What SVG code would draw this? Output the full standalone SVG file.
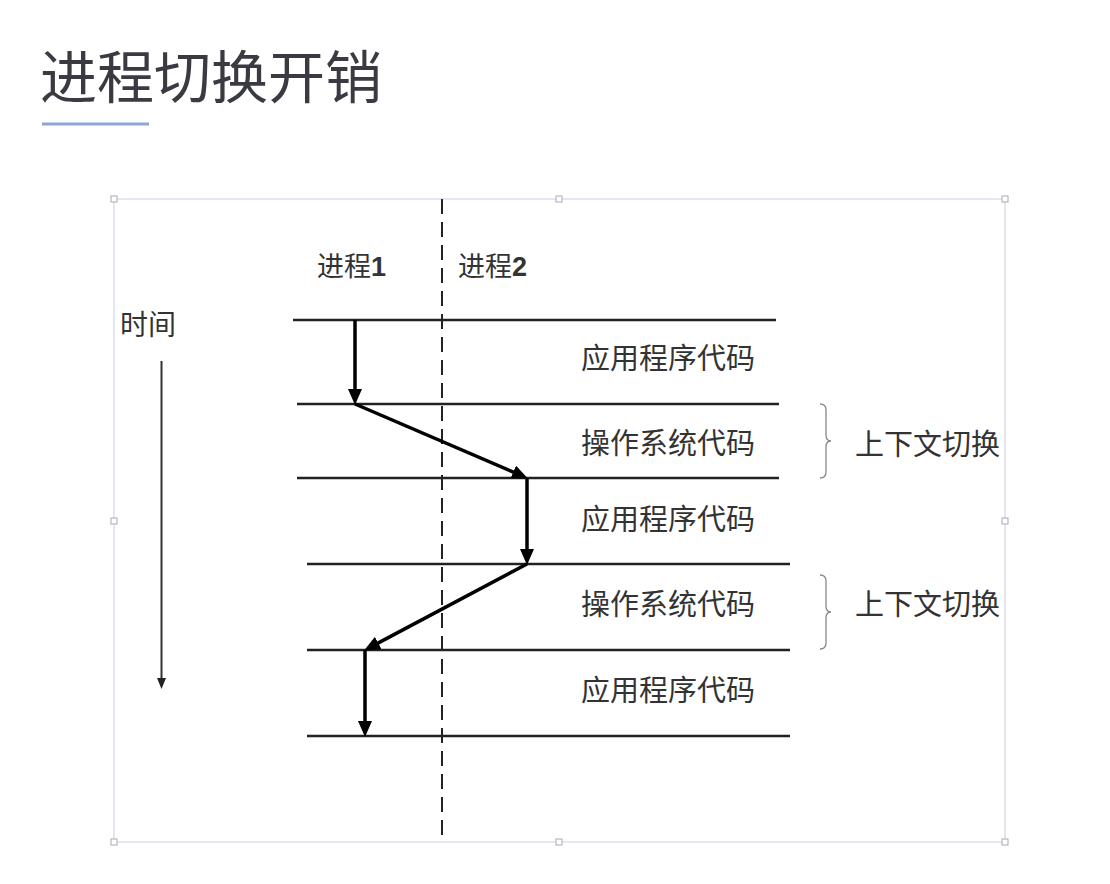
<svg xmlns="http://www.w3.org/2000/svg" width="1110" height="884" viewBox="0 0 1110 884">
<defs>
<style>
.cjk{font-family:"Noto Sans CJK SC","Noto Sans",sans-serif;fill:#333;}
.lbl{font-size:29px;}
.hline{stroke:#222;stroke-width:2.5;fill:none;}
.flow{stroke:#000;stroke-width:3.5;fill:none;}
.brace{stroke:#888;stroke-width:1.3;fill:none;}
.handle{fill:#fff;stroke:#a8aab4;stroke-width:1;}
</style>
<marker id="ah" markerUnits="userSpaceOnUse" markerWidth="16" markerHeight="14" refX="11" refY="7" orient="auto">
<path d="M0,0 L16,7 L0,14 z" fill="#000"/>
</marker>
<marker id="ahs" markerUnits="userSpaceOnUse" markerWidth="11" markerHeight="9" refX="8" refY="4.5" orient="auto">
<path d="M0,0 L11,4.5 L0,9 z" fill="#222"/>
</marker>
</defs>
<rect width="1110" height="884" fill="#fff"/>

<g id="title">
<text class="cjk" x="40" y="98" font-size="57" style="fill:#3a3a42">进程切换开销</text>
<line x1="42" y1="124" x2="149" y2="124" stroke="#8ea4dd" stroke-width="3"/>
</g>

<g id="frame">
<rect x="114" y="199" width="891" height="643" fill="none" stroke="#d3d6e6" stroke-width="1.2"/>
<rect class="handle" x="111" y="196" width="6" height="6"/>
<rect class="handle" x="556" y="196" width="6" height="6"/>
<rect class="handle" x="1002" y="196" width="6" height="6"/>
<rect class="handle" x="111" y="518" width="6" height="6"/>
<rect class="handle" x="1002" y="518" width="6" height="6"/>
<rect class="handle" x="111" y="839" width="6" height="6"/>
<rect class="handle" x="556" y="839" width="6" height="6"/>
<rect class="handle" x="1002" y="839" width="6" height="6"/>
</g>

<g id="divider">
<line x1="442" y1="199" x2="442" y2="835" stroke="#222" stroke-width="2" stroke-dasharray="15,8"/>
</g>

<g id="headers">
<text class="cjk" x="317" y="276" font-size="27">进程<tspan font-family="Liberation Sans, Arial, sans-serif" font-weight="bold">1</tspan></text>
<text class="cjk" x="458" y="276" font-size="27">进程<tspan font-family="Liberation Sans, Arial, sans-serif" font-weight="bold">2</tspan></text>
</g>

<g id="time">
<text class="cjk" x="120" y="335" font-size="28">时间</text>
<line x1="161.5" y1="361" x2="161.5" y2="686" stroke="#333" stroke-width="2" marker-end="url(#ahs)"/>
</g>

<g id="levels">
<line class="hline" x1="293" y1="320" x2="776" y2="320"/>
<line class="hline" x1="297" y1="404" x2="779" y2="404"/>
<line class="hline" x1="297" y1="478" x2="779" y2="478"/>
<line class="hline" x1="307" y1="564" x2="790" y2="564"/>
<line class="hline" x1="307" y1="650" x2="790" y2="650"/>
<line class="hline" x1="307" y1="736" x2="790" y2="736"/>
</g>

<g id="labels">
<text class="cjk lbl" x="581" y="369">应用程序代码</text>
<text class="cjk lbl" x="581" y="454">操作系统代码</text>
<text class="cjk lbl" x="581" y="530">应用程序代码</text>
<text class="cjk lbl" x="581" y="615">操作系统代码</text>
<text class="cjk lbl" x="581" y="701">应用程序代码</text>
</g>

<g id="switch1">
<path class="brace" d="M820,404 Q826,404 826,410 L826,435 Q826,441 831,441 Q826,441 826,447 L826,472 Q826,478 820,478"/>
<text class="cjk lbl" x="855" y="455">上下文切换</text>
</g>
<g id="switch2">
<path class="brace" d="M820,575 Q826,575 826,581 L826,606 Q826,612 831,612 Q826,612 826,618 L826,643 Q826,649 820,649"/>
<text class="cjk lbl" x="855" y="615">上下文切换</text>
</g>

<g id="connectors">
<line class="flow" x1="355" y1="320" x2="355" y2="400" marker-end="url(#ah)"/>
<path class="flow" d="M355,404 L523.3,476.4" marker-end="url(#ah)"/>
<line class="flow" x1="527" y1="478" x2="527" y2="560" marker-end="url(#ah)"/>
<path class="flow" d="M527,564 L368.5,648.1" marker-end="url(#ah)"/>
<line class="flow" x1="365" y1="650" x2="365" y2="732" marker-end="url(#ah)"/>
</g>
</svg>
